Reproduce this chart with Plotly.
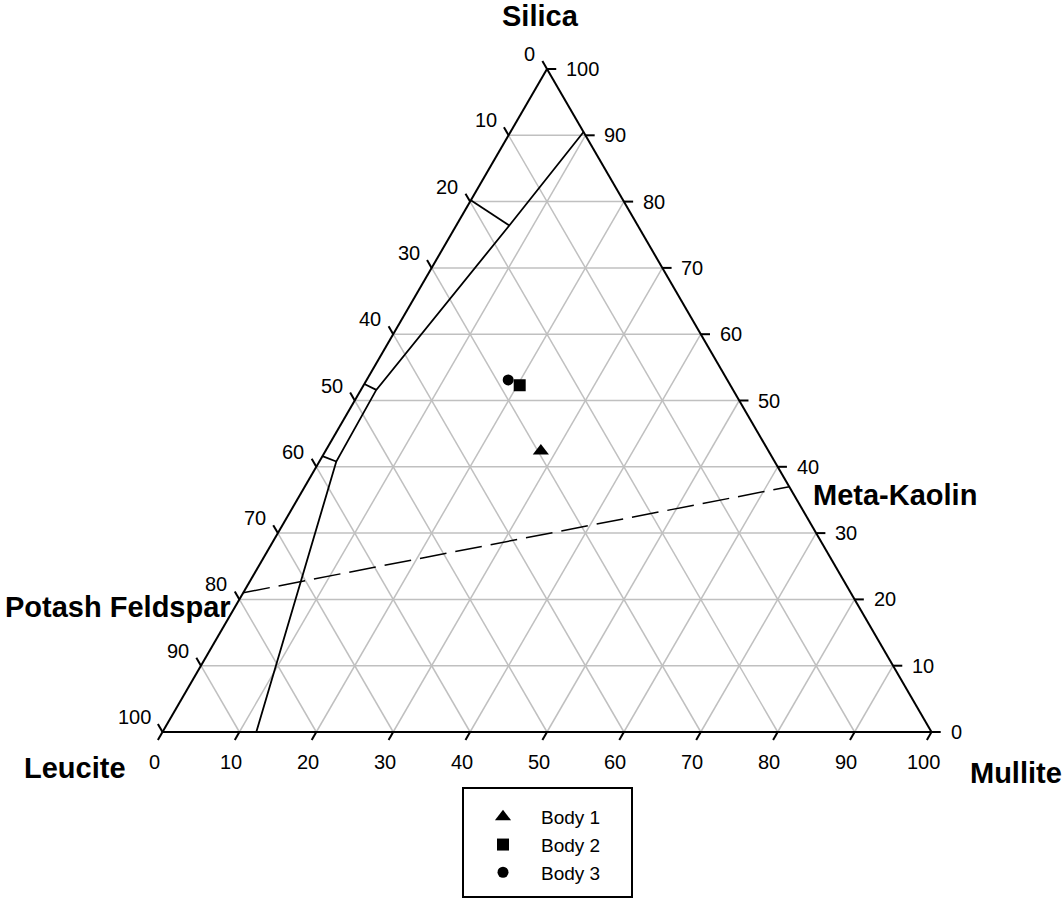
import plotly.graph_objects as go

# ---------------------------------------------------------------
# Compositions in wt% as (Silica, Leucite, Mullite)
# ---------------------------------------------------------------
bodies = ["Body 1", "Body 2", "Body 3"]
body_silica = [42.4, 52.3, 53.1]
body_leucite = [29.6, 27.4, 28.5]
body_mullite = [28.0, 20.3, 18.4]
body_symbols = ["triangle-up", "square", "circle"]
body_sizes = [14, 12, 11]

# Field boundary running from the Silica–Mullite join to the Leucite–Mullite join
boundary_silica = [90.5, 76.4, 51.6, 40.8, 0.0]
boundary_leucite = [0.0, 16.7, 46.4, 57.0, 87.8]
boundary_mullite = [9.5, 6.9, 2.0, 2.2, 12.2]

# Short tie segments from the Leucite–Silica edge to boundary points 1..3
tie_silica = [80.2, 52.5, 41.6]
tie_leucite = [19.8, 47.5, 58.4]
tie_mullite = [0.0, 0.0, 0.0]

# Potash feldspar – meta-kaolin join
join_names = ["Potash Feldspar", "Meta-Kaolin"]
join_silica = [21.0, 37.0]
join_leucite = [79.0, 0.0]
join_mullite = [0.0, 63.0]

tick_values = [0, 10, 20, 30, 40, 50, 60, 70, 80, 90, 100]

FONT = "Arial, 'Liberation Sans', sans-serif"
TICK_LEN = 1.2  # tick length in composition percent


def tern(s, l, m):
    """Project a (silica, leucite, mullite) composition onto the plane."""
    tot = s + l + m
    s, l, m = s / tot, l / tot, m / tot
    return m + s / 2.0, s


def segments(pairs):
    xs, ys = [], []
    for a, b in pairs:
        x0, y0 = tern(*a)
        x1, y1 = tern(*b)
        xs += [x0, x1, None]
        ys += [y0, y1, None]
    return xs, ys


fig = go.Figure()

# Grid lines for every 10 %
grid = []
for v in tick_values[1:-1]:
    grid.append(((v, 100 - v, 0), (v, 0, 100 - v)))          # constant silica
    grid.append(((100 - v, v, 0), (0, v, 100 - v)))          # constant leucite
    grid.append(((100 - v, 0, v), (0, 100 - v, v)))          # constant mullite
gx, gy = segments(grid)
fig.add_trace(go.Scatter(x=gx, y=gy, mode="lines", line=dict(color="#c0c0c0", width=1.5),
                         hoverinfo="skip", showlegend=False))

# Triangle frame
fx, fy = segments([((100, 0, 0), (0, 100, 0)), ((0, 100, 0), (0, 0, 100)),
                   ((0, 0, 100), (100, 0, 0))])
fig.add_trace(go.Scatter(x=fx, y=fy, mode="lines", line=dict(color="black", width=2),
                         hoverinfo="skip", showlegend=False))

# Ticks pointing outward along the grid directions
ticks = []
t = TICK_LEN
for v in tick_values:
    ticks.append(((v, 0, 100 - v), (v, -t, 100 - v + t)))            # silica, right edge
    ticks.append(((100 - v, v, 0), (100 - v + t, v, -t)))            # leucite, left edge
    ticks.append(((0, 100 - v, v), (-t, 100 - v + t, v)))            # mullite, bottom edge
tx, ty = segments(ticks)
fig.add_trace(go.Scatter(x=tx, y=ty, mode="lines", line=dict(color="black", width=2),
                         hoverinfo="skip", showlegend=False))

# Field boundary and ties
bx, by = zip(*[tern(s, l, m) for s, l, m in zip(boundary_silica, boundary_leucite, boundary_mullite)])
fig.add_trace(go.Scatter(x=list(bx), y=list(by), mode="lines", line=dict(color="black", width=1.8),
                         hoverinfo="skip", showlegend=False))
tie_pairs = []
for i in range(3):
    tie_pairs.append(((tie_silica[i], tie_leucite[i], tie_mullite[i]),
                      (boundary_silica[i + 1], boundary_leucite[i + 1], boundary_mullite[i + 1])))
kx, ky = segments(tie_pairs)
fig.add_trace(go.Scatter(x=kx, y=ky, mode="lines", line=dict(color="black", width=1.8),
                         hoverinfo="skip", showlegend=False))

# Feldspar – meta-kaolin join (dashed)
jx, jy = zip(*[tern(s, l, m) for s, l, m in zip(join_silica, join_leucite, join_mullite)])
fig.add_trace(go.Scatter(x=list(jx), y=list(jy), mode="lines",
                         line=dict(color="black", width=1.5, dash="27px,9px"),
                         hoverinfo="skip", showlegend=False))

# Bodies
for name, s, l, m, sym, sz in zip(bodies, body_silica, body_leucite, body_mullite,
                                  body_symbols, body_sizes):
    x, y = tern(s, l, m)
    fig.add_trace(go.Scatter(x=[x], y=[y], mode="markers", name=name,
                             marker=dict(symbol=sym, size=sz, color="black")))

annotations = []
tick_font = dict(family=FONT, size=20, color="black")
for v in tick_values:
    x, y = tern(v, 0, 100 - v)
    annotations.append(dict(x=x, y=y, text=str(v), showarrow=False, xanchor="left",
                            yanchor="middle", xshift=17, yshift=0, font=tick_font))
    x, y = tern(100 - v, v, 0)
    annotations.append(dict(x=x, y=y, text=str(v), showarrow=False, xanchor="right",
                            yanchor="middle", xshift=-10, yshift=15, font=tick_font))
    x, y = tern(0, 100 - v, v)
    annotations.append(dict(x=x, y=y, text=str(v), showarrow=False, xanchor="center",
                            yanchor="middle", xshift=-8.5, yshift=-30, font=tick_font))

title_font = dict(family=FONT, size=29, color="black")
x, y = tern(100, 0, 0)
annotations.append(dict(x=x, y=y, text="<b>Silica</b>", showarrow=False, xanchor="center",
                        yanchor="middle", xshift=-7, yshift=53, font=title_font))
x, y = tern(0, 100, 0)
annotations.append(dict(x=x, y=y, text="<b>Leucite</b>", showarrow=False, xanchor="right",
                        yanchor="middle", xshift=-35, yshift=-36, font=title_font))
x, y = tern(0, 0, 100)
annotations.append(dict(x=x, y=y, text="<b>Mullite</b>", showarrow=False, xanchor="left",
                        yanchor="middle", xshift=36, yshift=-41, font=title_font))
x, y = tern(join_silica[0], join_leucite[0], join_mullite[0])
annotations.append(dict(x=x, y=y, text="<b>" + join_names[0] + "</b>", showarrow=False,
                        xanchor="right", yanchor="middle", xshift=-10, yshift=-14,
                        font=title_font))
x, y = tern(join_silica[1], join_leucite[1], join_mullite[1])
annotations.append(dict(x=x, y=y, text="<b>" + join_names[1] + "</b>", showarrow=False,
                        xanchor="left", yanchor="middle", xshift=22, yshift=-8,
                        font=title_font))

W, H = 1063, 899
fig.update_layout(
    width=W, height=H, autosize=False,
    margin=dict(l=0, r=0, t=0, b=0),
    paper_bgcolor="white", plot_bgcolor="white",
    xaxis=dict(range=[-162.5 / 769, (W - 162.5) / 769], visible=False, fixedrange=True),
    yaxis=dict(range=[(732 - H) / 663, 732 / 663], visible=False, fixedrange=True),
    annotations=annotations,
    showlegend=True,
    legend=dict(x=465 / W, y=1 - 798 / H, xanchor="left", yanchor="top",
                bgcolor="rgba(0,0,0,0)", borderwidth=0, itemwidth=66,
                font=dict(family=FONT, size=19, color="black"), tracegroupgap=0),
    shapes=[dict(type="rect", xref="paper", yref="paper",
                 x0=463 / W, x1=632 / W, y0=1 - 897 / H, y1=1 - 788 / H,
                 line=dict(color="black", width=2), fillcolor="rgba(0,0,0,0)")],
    hovermode=False,
)

fig.write_html("out.html")
